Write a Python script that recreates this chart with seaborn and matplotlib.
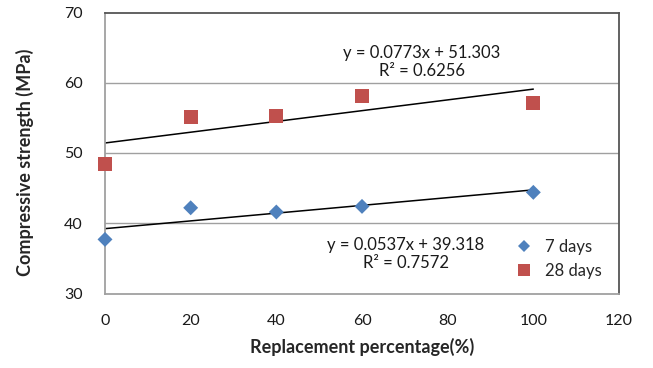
import numpy as np
import pandas as pd
import matplotlib
matplotlib.use("Agg")
import matplotlib.pyplot as plt
import seaborn as sns

x_vals = [0, 20, 40, 60, 100]
days7 = [37.7, 42.2, 41.6, 42.4, 44.4]
days28 = [48.4, 55.1, 55.3, 58.1, 57.1]
series_names = ["7 days", "28 days"]
eq7 = "y = 0.0537x + 39.318\nR² = 0.7572"
eq28 = "y = 0.0773x + 51.303\nR² = 0.6256"
x_ticks = [0, 20, 40, 60, 80, 100, 120]
y_ticks = [30, 40, 50, 60, 70]

sns.set_theme(style="white")
plt.rcParams['font.family'] = ['Lato', 'DejaVu Sans']

df = pd.DataFrame({
    "x": x_vals * 2,
    "y": days7 + days28,
    "series": [series_names[0]] * 5 + [series_names[1]] * 5,
})

fig = plt.figure(figsize=(6.53, 3.68), dpi=100)
ax = fig.add_axes([105 / 653, 1 - 293.5 / 368, 514 / 653, 281 / 368])

ax.set_xlim(0, 120)
ax.set_ylim(30, 70)
for yv in [40, 50, 60]:
    ax.axhline(yv, color="#a0a0a0", lw=1.0, zorder=0)
for s in ["top", "right"]:
    ax.spines[s].set_color("#555555")
    ax.spines[s].set_linewidth(1.3)
for s in ["left", "bottom"]:
    ax.spines[s].set_color("#a0a0a0")
    ax.spines[s].set_linewidth(1.3)

palette = {series_names[0]: "#4F81BD", series_names[1]: "#C0504D"}
sns.scatterplot(data=df, x="x", y="y", hue="series", style="series",
                size="series",
                sizes={series_names[0]: 58, series_names[1]: 100},
                markers={series_names[0]: "D", series_names[1]: "s"},
                palette=palette, linewidth=0, ax=ax, zorder=3)
for coll in ax.collections:
    coll.set_clip_on(False)

for vals in [days7, days28]:
    sns.regplot(x=np.array(x_vals), y=np.array(vals), ci=None, scatter=False,
                line_kws={"color": "black", "lw": 1.1}, ax=ax)

ax.text(74.0, 62.9, eq28, ha="center", va="center", fontsize=12, linespacing=1.15, color="#1a1a1a")
ax.text(70.3, 35.6, eq7, ha="center", va="center", fontsize=12, linespacing=1.15, color="#1a1a1a")

ax.set_xticks(x_ticks)
ax.set_yticks(y_ticks)
ax.tick_params(axis="both", length=0, labelsize=11.5, colors="#1a1a1a")
ax.tick_params(axis="x", pad=15)
ax.tick_params(axis="y", pad=16)
ax.set_xlabel("Replacement percentage(%)", fontsize=13, fontweight="bold", labelpad=7)
ax.set_ylabel("Compressive strength (MPa)", fontsize=13, fontweight="bold")
ax.yaxis.set_label_coords(-0.138, 0.468)

handles, labels = ax.get_legend_handles_labels()
leg_sizes = {series_names[0]: 6.2, series_names[1]: 9.2}
for h, l in zip(handles, labels):
    h.set_markersize(leg_sizes[l])
ax.legend(handles, labels, loc="center left", bbox_to_anchor=(0.767, 0.123),
          frameon=False, fontsize=12, handletextpad=0.65, labelspacing=0.5,
          handlelength=1.2)

fig.savefig("out.png", dpi=100)
